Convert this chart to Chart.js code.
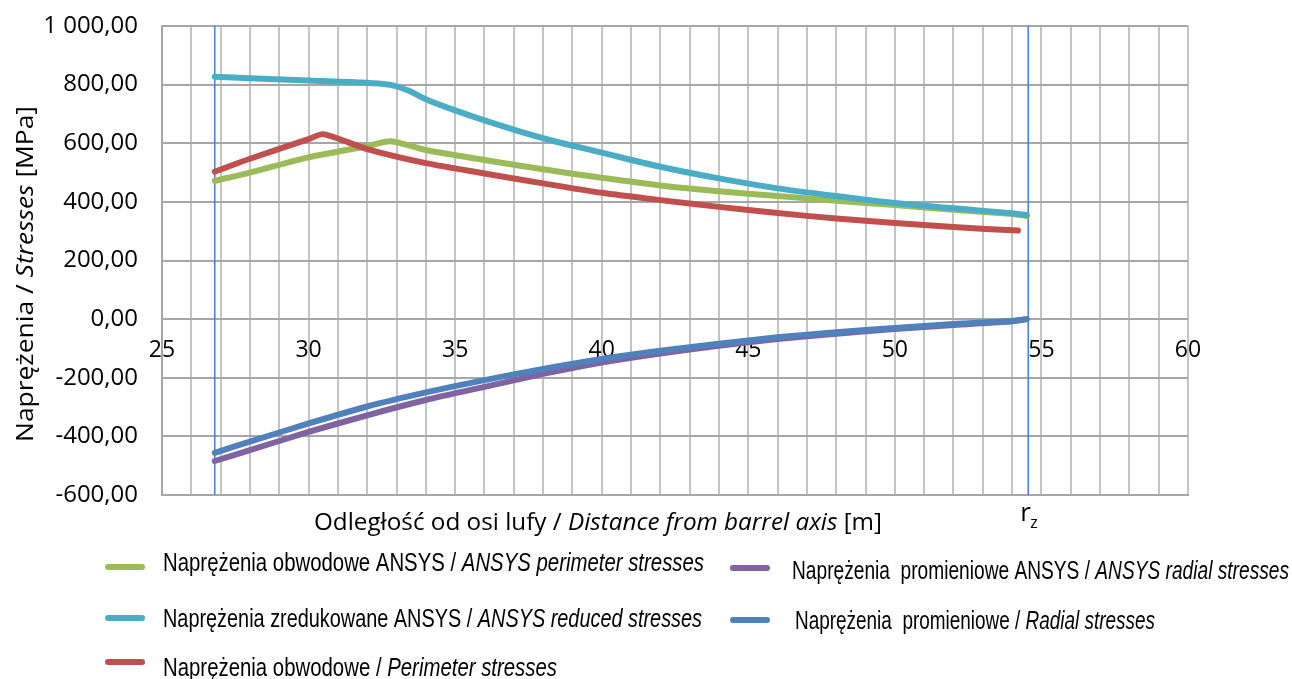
<!DOCTYPE html>
<html>
<head>
<meta charset="utf-8">
<script src="https://cdn.jsdelivr.net/npm/chart.js@4.4.1/dist/chart.umd.min.js"></script>
<style>
  html, body { margin: 0; padding: 0; background: #fff; }
  #wrap { width: 1292px; height: 679px; }
</style>
</head>
<body>
<div id="wrap"><canvas id="chart"></canvas></div>
<script>
// distance from barrel axis [m] and stresses [MPa]
const xAnsysPerimeter = [26.8, 28, 30, 32, 32.8, 34, 36, 38, 40, 42, 44, 46, 48, 50, 52, 54, 54.5]
const ansysPerimeter = [472, 500, 552, 590, 607, 577, 543, 511, 482, 456, 436, 420, 404, 389, 373, 359, 352]

const xAnsysReduced = [26.8, 28, 30, 32, 32.8, 33.4, 34, 35, 36, 38, 40, 42, 44, 46, 48, 50, 52, 54, 54.5]
const ansysReduced = [827, 822, 814, 806, 799, 780, 750, 712, 678, 617, 568, 520, 480, 446, 420, 396, 378, 361, 355]

const xPerimeter = [26.8, 28, 30, 30.5, 32, 34, 36, 38, 40, 42, 44, 46, 48, 50, 52, 54.2]
const perimeter = [503, 547, 614, 631, 580, 532, 497, 463, 431, 406, 383, 362, 343, 328, 314, 302]

const xAnsysRadial = [26.8, 28, 30, 32, 34, 36, 38, 40, 42, 44, 46, 48, 50, 52, 54, 54.5]
const ansysRadial = [-484, -447, -385, -328, -276, -231, -187, -148, -117, -91, -68, -50, -34, -20, -7, 0]

const xRadial = [26.8, 28, 30, 32, 34, 36, 38, 40, 42, 44, 46, 48, 50, 52, 54, 54.5]
const radial = [-456, -418, -356, -298, -250, -208, -170, -136, -108, -84, -62, -45, -30, -17, -6, 0]

// inner and outer radius markers
const rInner = 26.8
const rOuter = 54.55

const xMin = 25
const xMax = 60
const yMin = -600
const yMax = 1000

const colors = {
  green: '#9bbb59',
  cyan: '#4bacc6',
  red: '#c0504d',
  purple: '#8064a2',
  blue: '#4f81bd',
  marker: '#4a7ec8'
}

// legend: sample line position, text start, baseline and the width the text should take
const legendItems = [
  { color: colors.green, parts: [['Naprężenia obwodowe ANSYS / ', false], ['ANSYS perimeter stresses', true]], lx: 105, ly: 567, tx: 163, ty: 571, tw: 541 },
  { color: colors.cyan, parts: [['Naprężenia zredukowane ANSYS / ', false], ['ANSYS reduced stresses', true]], lx: 105, ly: 618, tx: 163, ty: 627, tw: 539 },
  { color: colors.red, parts: [['Naprężenia obwodowe / ', false], ['Perimeter stresses', true]], lx: 105, ly: 662, tx: 163, ty: 676, tw: 394 },
  { color: colors.purple, parts: [['Naprężenia  promieniowe ANSYS / ', false], ['ANSYS radial stresses', true]], lx: 730, ly: 568, tx: 792, ty: 579, tw: 497 },
  { color: colors.blue, parts: [['Naprężenia  promieniowe / ', false], ['Radial stresses', true]], lx: 730, ly: 620, tx: 795, ty: 629, tw: 360 }
]

function pts (xs, ys) {
  return xs.map((x, i) => ({ x, y: ys[i] }))
}

function fmt (v) {
  const s = Math.abs(v).toFixed(2).split('.')
  const int = s[0].replace(/\B(?=(\d{3})+(?!\d))/g, ' ')
  return (v < 0 ? '-' : '') + int + ',' + s[1]
}

function richWidth (ctx, parts, size, family) {
  let w = 0
  for (const [text, italic] of parts) {
    ctx.font = (italic ? 'italic ' : '') + size + 'px ' + family
    w += ctx.measureText(text).width
  }
  return w
}

function drawRich (ctx, parts, x, y, size, family, sx) {
  ctx.save()
  ctx.translate(x, y)
  ctx.scale(sx || 1, 1)
  let cx = 0
  for (const [text, italic] of parts) {
    ctx.font = (italic ? 'italic ' : '') + size + 'px ' + family
    ctx.fillText(text, cx, 0)
    cx += ctx.measureText(text).width
  }
  ctx.restore()
}

const labelsPlugin = {
  id: 'labels',
  afterDraw (chart) {
    const ctx = chart.ctx
    const x = chart.scales.x
    ctx.save()
    ctx.fillStyle = '#000'
    ctx.textBaseline = 'alphabetic'
    ctx.textAlign = 'left'

    // y axis title
    const yParts = [['Naprężenia / ', false], ['Stresses', true], [' [MPa]', false]]
    const yw = richWidth(ctx, yParts, 24, 'Open Sans')
    const ys = 336 / yw
    ctx.save()
    ctx.translate(33, 274)
    ctx.rotate(-Math.PI / 2)
    drawRich(ctx, yParts, -yw * ys / 2, 0, 24, 'Open Sans', ys)
    ctx.restore()

    // x axis title
    const xParts = [['Odległość od osi lufy / ', false], ['Distance from barrel axis', true], [' [m]', false]]
    const xw = richWidth(ctx, xParts, 24, 'Open Sans')
    drawRich(ctx, xParts, 314, 530, 24, 'Open Sans', 568 / xw)

    // r_z under the outer radius line
    const rx = x.getPixelForValue(rOuter)
    ctx.font = '26px Open Sans'
    ctx.fillText('r', rx - 8, 521)
    ctx.font = '16px Open Sans'
    ctx.fillText('z', rx + 2, 528)

    // legend
    for (const item of legendItems) {
      ctx.strokeStyle = item.color
      ctx.lineWidth = 6
      ctx.lineCap = 'round'
      ctx.beginPath()
      ctx.moveTo(item.lx + 3, item.ly)
      ctx.lineTo(item.lx + 37, item.ly)
      ctx.stroke()
      const w = richWidth(ctx, item.parts, 26, 'Liberation Sans')
      drawRich(ctx, item.parts, item.tx, item.ty, 26, 'Liberation Sans', item.tw / w)
    }
    ctx.restore()
  }
}

const line = (data, color, extra) => ({
  data,
  borderColor: color,
  backgroundColor: color,
  borderWidth: 6,
  borderCapStyle: 'round',
  borderJoinStyle: 'round',
  pointRadius: 0,
  tension: 0.25,
  fill: false,
  ...extra
})

const marker = (xv) => ({
  data: [{ x: xv, y: yMin - 6 }, { x: xv, y: yMax }],
  borderColor: colors.marker,
  borderWidth: 1.5,
  pointRadius: 0,
  fill: false
})

new Chart(document.getElementById('chart'), {
  type: 'scatter',
  data: {
    datasets: [
      line(pts(xPerimeter, perimeter), colors.red),
      line(pts(xRadial, radial), colors.blue),
      line(pts(xAnsysReduced, ansysReduced), colors.cyan, { cubicInterpolationMode: 'monotone' }),
      line(pts(xAnsysRadial, ansysRadial), colors.purple),
      line(pts(xAnsysPerimeter, ansysPerimeter), colors.green),
      marker(rInner),
      marker(rOuter)
    ].map(d => ({ ...d, showLine: true }))
  },
  options: {
    responsive: true,
    maintainAspectRatio: false,
    animation: false,
    layout: { padding: { left: 0, top: 26, right: 104, bottom: 184 } },
    plugins: {
      legend: { display: false },
      tooltip: { enabled: false }
    },
    scales: {
      x: {
        type: 'linear',
        position: 'bottom',
        min: xMin,
        max: xMax,
        ticks: { display: false, stepSize: 1 },
        grid: { color: '#c4c4c4', lineWidth: 2, drawTicks: false },
        border: { color: '#a6a6a6', width: 2 }
      },
      xl: {
        type: 'linear',
        axis: 'x',
        position: { y: 0 },
        min: xMin,
        max: xMax,
        ticks: {
          stepSize: 5,
          padding: 18,
          color: '#000',
          font: { family: 'Open Sans', size: 23 }
        },
        grid: { display: false, drawTicks: false },
        border: { display: false }
      },
      y: {
        min: yMin,
        max: yMax,
        afterFit (scale) {
          scale.width = 162
          scale.paddingTop = 0
          scale.paddingBottom = 0
        },
        ticks: {
          stepSize: 200,
          padding: 24,
          color: '#000',
          font: { family: 'Open Sans', size: 24 },
          callback: v => fmt(v)
        },
        grid: { color: '#a6a6a6', lineWidth: 2, drawTicks: false },
        border: { color: '#a6a6a6', width: 2 }
      }
    }
  },
  plugins: [labelsPlugin]
})
</script>
</body>
</html>
